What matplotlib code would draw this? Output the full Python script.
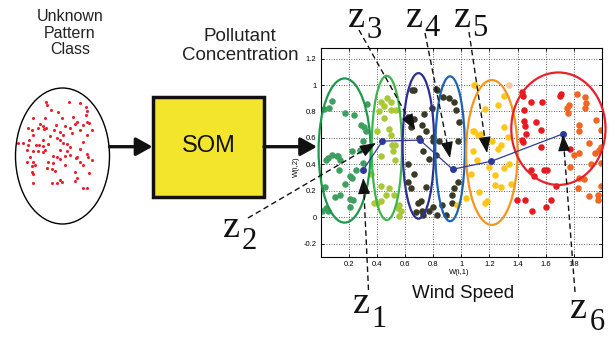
import matplotlib
matplotlib.use("Agg")
import matplotlib.pyplot as plt
from matplotlib.patches import Ellipse, Rectangle

plt.rcParams['mathtext.fontset'] = 'custom'
plt.rcParams['mathtext.rm'] = 'Liberation Serif'
plt.rcParams['mathtext.it'] = 'Liberation Serif:italic'

# ---------------- data ----------------
green_x = [0.02,0.06,0.08,0.17,0.24,0.33,0.31,0.32,0.29,0.22,0.28,0.30,0.08,0.04,0.14,0.13,0.25,0.22,0.17,0.03,0.10,0.14,0.21,0.21,0.04,0.01,0.05,0.12,0.21,0.23,0.30,0.05,0.115]
green_y = [0.82,0.83,0.88,0.79,0.77,0.86,0.68,0.65,0.70,0.50,0.51,0.41,0.47,0.43,0.43,0.36,0.36,0.30,0.25,0.23,0.15,0.17,0.14,0.08,0.07,0.05,0.05,0.46,0.31,0.13,0.58,0.45,0.46]

lime_x = [0.474,0.498,0.427,0.45,0.498,0.415,0.533,0.403,0.486,0.498,0.51,0.53,0.514,0.528,0.427,0.427,0.462,0.52,0.403,0.557,0.557,0.547,0.571,0.382,0.43,0.488,0.45,0.36]
lime_y = [0.90,0.87,0.87,0.84,0.81,0.80,0.81,0.65,0.665,0.62,0.55,0.545,0.50,0.43,0.46,0.24,0.17,0.17,0.108,0.095,0.013,0.07,0.045,0.11,0.125,0.22,0.75,0.33]

dark_x = [0.649,0.618,0.661,0.642,0.737,0.72,0.75,0.79,0.83,0.867,0.80,0.796,0.70,0.73,0.77,0.623,0.66,0.618,0.748,0.69,0.678,0.77,0.725,0.83,0.89,0.937,0.95,0.937,0.973,0.96,0.95,0.914,0.985,0.843,0.819,0.973,0.713,0.86,0.795,0.72,0.665,0.82,0.64]
dark_y = [0.96,0.76,0.74,0.68,0.78,0.70,0.65,0.83,0.96,0.91,0.58,0.61,0.60,0.50,0.44,0.40,0.33,0.27,0.23,0.11,0.04,0.045,0.02,0.02,0.02,0.17,0.22,0.108,0.27,0.81,0.87,0.90,0.72,0.58,0.47,0.58,0.12,0.09,0.08,0.05,0.96,0.97,0.22]

gold_x = [1.09,1.17,1.26,1.30,1.08,1.12,1.22,1.26,1.08,1.11,1.07,1.24,1.24,1.30,1.18,1.127,1.17,1.28,1.35,1.03,0.97,1.10,1.33,1.28,1.30,1.09,1.14,1.20,1.34]
gold_y = [1.0,0.82,0.85,0.92,0.65,0.62,0.58,0.52,0.50,0.43,0.33,0.32,0.245,0.37,0.12,0.195,0.11,0.23,0.25,0.145,0.095,1.0,0.61,0.55,0.68,0.65,0.63,0.38,0.40]
peach_x = [1.34]
peach_y = [1.0]

red_x = [1.434,1.44,1.493,1.576,1.706,1.70,1.445,1.445,1.528,1.45,1.564,1.46,1.434,1.44,1.564,1.493,1.587,1.61,1.52,1.67,1.394,1.45,1.505,1.60,1.64,1.776]
red_y = [0.947,0.92,0.87,0.87,0.935,0.92,0.81,0.73,0.72,0.69,0.66,0.63,0.585,0.57,0.53,0.36,0.36,0.36,0.31,0.24,0.13,0.13,0.05,0.075,0.13,0.52]

orange_x = [1.765,1.75,1.76,1.824,1.88,1.883,1.88,1.954,1.835,1.84,1.99,1.906,1.99,1.98,1.95,1.835,1.80,1.776,1.92,1.99,1.84,1.87,1.83,1.99,1.906,1.97,1.97]
orange_y = [0.85,0.83,0.79,0.935,0.91,0.865,0.83,0.735,0.70,0.65,0.66,0.56,0.53,0.51,0.49,0.485,0.47,0.38,0.40,0.41,0.30,0.29,0.22,0.24,0.16,0.17,0.13]

# prototypes z1..z6
proto_x = [0.302,0.439,0.706,0.938,1.214,1.725]
proto_y = [0.358,0.576,0.584,0.363,0.424,0.632]

# cluster ellipses: center x, center y, width, height, colour
ell_cx = [0.17,0.47,0.695,0.92,1.217,1.69]
ell_cy = [0.505,0.525,0.54,0.518,0.49,0.67]
ell_w = [0.37,0.215,0.225,0.21,0.366,0.67]
ell_h = [1.09,1.09,1.10,1.095,1.095,0.85]
ell_col = ['#1a9a4a','#3cb54a','#2b3192','#1c64b0','#f7941d','#e8202a']

x_ticks = [0.2,0.4,0.6,0.8,1.0,1.2,1.4,1.6,1.8]
x_ticklabels = ['0.2','0.4','0.6','0.8','1','1.2','1.4','1.6','1.8']
y_ticks = [-0.2,0,0.2,0.4,0.6,0.8,1.0,1.2]
y_ticklabels = ['-0.2','0','0.2','0.4','0.6','0.8','1','1.2']

# unknown pattern (pixel coordinates of the left sketch, x3 zoom)
unk_x = [138,140,208,240,258,262,153,175,220,258,100,135,185,230,260,120,128,168,195,225,248,268,
         85,95,115,133,138,162,180,210,240,275,100,150,190,215,262,88,128,170,180,190,248,
         55,70,85,108,118,128,145,200,210,80,98,115,130,135,180,200,240,
         90,160,170,195,210,230,260,265,80,100,145,180,240,228,275,95,105,160,195,248,
         95,100,142,155,165,225,268,100,155,180,185,172,225,232,250,260]
unk_y = [305,315,305,308,320,333,330,335,350,345,355,355,355,365,365,372,378,375,378,372,375,370,
         385,390,385,388,385,390,395,383,390,390,405,408,405,400,405,420,420,415,420,428,425,
         430,430,435,436,436,438,432,432,440,450,452,452,455,450,450,452,446,
         470,468,472,467,465,470,462,470,485,485,485,478,487,475,480,498,494,490,495,495,
         515,522,505,508,512,515,520,548,550,540,545,550,542,535,565,565]

# ---------------- figure ----------------
W, H = 615, 337
fig = plt.figure(figsize=(W/100, H/100), dpi=100)
SANS = ['Liberation Sans', 'DejaVu Sans']
SERIF = ['Liberation Serif', 'DejaVu Serif']

def fx(px):
    return px / W
def fy(py):
    return 1 - py / H

# main scatter axes
l, r, t, b = 320.7, 602, 48, 257
ax = fig.add_axes([fx(l), fy(b), (r - l) / W, (b - t) / H])
ax.set_xlim(0, 2)
ax.set_ylim(-0.3, 1.28)
ax.set_xticks(x_ticks)
ax.set_xticklabels(x_ticklabels)
ax.set_yticks(y_ticks)
ax.set_yticklabels(y_ticklabels)
ax.tick_params(direction='in', length=2.5, width=0.6, labelsize=5.5, pad=3,
               top=True, right=True)
for lab in ax.get_xticklabels() + ax.get_yticklabels():
    lab.set_family(SANS)
ax.grid(True, linestyle=(0, (1, 2)), color='#333333', linewidth=0.6)
ax.set_axisbelow(True)
for s in ax.spines.values():
    s.set_linewidth(0.8)

ms = 22
ax.scatter(green_x, green_y, s=ms, color='#3f9f60', lw=0, zorder=2)
ax.scatter(lime_x, lime_y, s=ms, color='#a8c83a', lw=0, zorder=2)
ax.scatter(dark_x, dark_y, s=ms, color='#3a3a28', lw=0, zorder=2)
ax.scatter(gold_x, gold_y, s=ms, color='#ffc61a', lw=0, zorder=2)
ax.scatter(peach_x, peach_y, s=ms, color='#f5c8a0', lw=0, zorder=2)
ax.scatter(red_x, red_y, s=ms, color='#e8191f', lw=0, zorder=2)
ax.scatter(orange_x, orange_y, s=ms, color='#f26522', lw=0, zorder=2)

for cx, cy, w, h, c in zip(ell_cx, ell_cy, ell_w, ell_h, ell_col):
    ax.add_patch(Ellipse((cx, cy), w, h, fill=False, edgecolor=c, lw=1.6,
                         zorder=3, clip_on=False))

ax.plot(proto_x, proto_y, '-o', color='#2e3a9a', lw=0.9, ms=4, zorder=4)

fig.text(fx(296), fy(167), 'W(i,2)', rotation=90, ha='center', va='center',
         fontsize=5.5, family=SANS)
fig.text(fx(459), fy(273), 'W(i,1)', ha='center', va='center',
         fontsize=5.5, family=SANS)

# overlay for the diagram
ov = fig.add_axes([0, 0, 1, 1], zorder=10)
ov.set_xlim(0, W)
ov.set_ylim(H, 0)
ov.set_axis_off()

ov.text(70, 33, 'Unknown\nPattern\nClass', ha='center', va='center',
        fontsize=11.5, family=SANS, color='#222222', linespacing=1.15)
ov.add_patch(Ellipse((62.5, 156), 94, 136, fill=False, edgecolor='black', lw=1.0))
ov.scatter([v / 3 for v in unk_x], [v / 3 for v in unk_y], s=5, color='#e8202a', lw=0)

ov.text(240, 46, 'Pollutant\nConcentration', ha='center', va='center',
        fontsize=13.5, family=SANS, color='#222222', linespacing=1.1)
ov.add_patch(Rectangle((152.7, 97.3), 111.3, 99.4, facecolor='#f3e52c',
                       edgecolor='#111111', lw=2.5))
ov.text(208.5, 146.5, 'SOM', ha='center', va='center', fontsize=17,
        family=SANS, color='#111111')
ov.text(463, 293, 'Wind Speed', ha='center', va='center', fontsize=13.5,
        family=SANS, color='#111111')

# solid arrows
for (x0, x1) in [(109.5, 152.5), (264, 317)]:
    ov.annotate('', xy=(x1, 146.7), xytext=(x0, 146.7),
                arrowprops=dict(arrowstyle='-|>,head_length=0.9,head_width=0.5',
                                lw=2.4, color='#111111', mutation_scale=11,
                                shrinkA=0, shrinkB=0))

# dashed annotation arrows: start (label), tip (prototype)
starts = [(368.5, 290), (248, 218), (359, 30), (425, 33), (469, 32), (575, 292)]
tips = [(363.3, 178), (376, 143), (415, 130), (450, 158), (487, 153), (563, 135)]
for (sx, sy), (tx, ty) in zip(starts, tips):
    dx, dy = tx - sx, ty - sy
    d = (dx * dx + dy * dy) ** 0.5
    bx, by = tx - dx / d * 12, ty - dy / d * 12
    ov.plot([sx, bx], [sy, by], color='#111111', lw=1.0, dashes=(4, 2.5))
    ov.annotate('', xy=(tx, ty), xytext=(bx + dx / d * 0.5, by + dy / d * 0.5),
                arrowprops=dict(arrowstyle='-|>,head_length=1.0,head_width=0.38',
                                lw=0.8, color='#111111', mutation_scale=10,
                                shrinkA=0, shrinkB=0))

# z labels: (x of z, baseline of z, x of digit, baseline of digit, digit)
z_x = [351.7, 221.7, 346.7, 405, 453, 569]
z_base = [313, 236.7, 27, 27, 27, 318]
d_x = [371, 241, 366, 424, 472, 589]
d_base = [327, 249.3, 37.5, 36, 36, 330]
d_txt = ['1', '2', '3', '4', '5', '6']
for a, b_, c, d_, s in zip(z_x, z_base, d_x, d_base, d_txt):
    ov.text(a, b_, r'$\mathrm{z}$', ha='left', va='baseline', fontsize=27.5,
            family=SERIF, color='#111111')
    ov.text(c, d_, r'$\mathrm{' + s + '}$', ha='left', va='baseline',
            fontsize=22, family=SERIF, color='#111111')

fig.savefig('out.png', dpi=100)
